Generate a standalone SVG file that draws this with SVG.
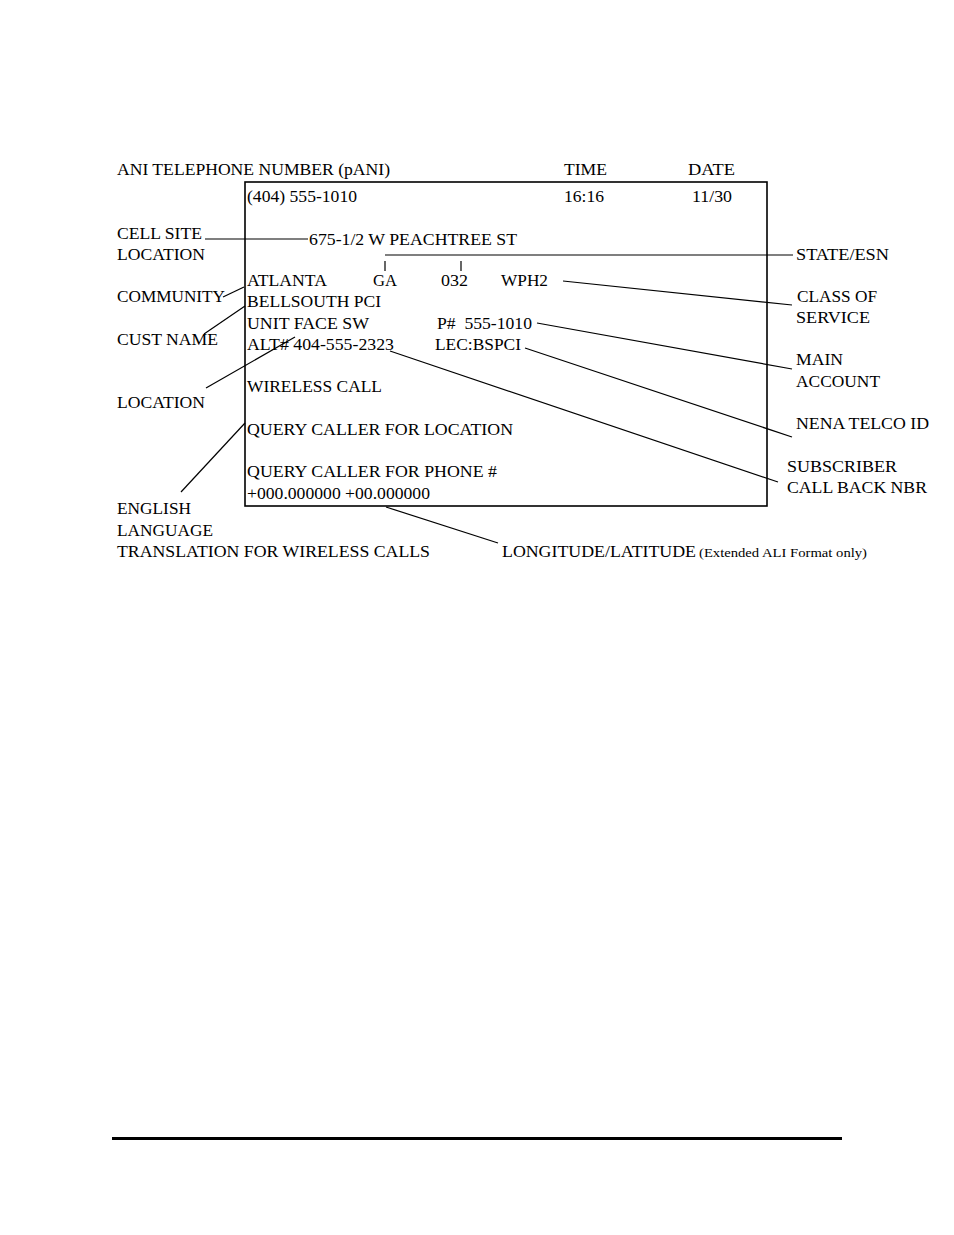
<svg xmlns="http://www.w3.org/2000/svg" width="954" height="1235" viewBox="0 0 954 1235">
<style>
text{font-family:"Liberation Serif","Times New Roman",serif;font-size:17.5px;fill:#000}
.s{font-size:13px}
.ln{stroke:#000;stroke-width:1.2;fill:none}
</style>
<rect width="954" height="1235" fill="#fff"/>
<g id="ali-box">
<rect x="245" y="182" width="522" height="324" fill="none" stroke="#000" stroke-width="1.6"/>
<text x="247" y="202" textLength="110" lengthAdjust="spacingAndGlyphs">(404) 555-1010</text>
<text x="564" y="202" textLength="40" lengthAdjust="spacingAndGlyphs">16:16</text>
<text x="692" y="202" textLength="40" lengthAdjust="spacingAndGlyphs">11/30</text>
<text x="309" y="245" textLength="208" lengthAdjust="spacingAndGlyphs">675-1/2 W PEACHTREE ST</text>
<text x="247" y="286" textLength="80" lengthAdjust="spacingAndGlyphs">ATLANTA</text>
<text x="373" y="286" textLength="24" lengthAdjust="spacingAndGlyphs">GA</text>
<text x="441" y="286" textLength="27" lengthAdjust="spacingAndGlyphs">032</text>
<text x="501" y="286" textLength="47" lengthAdjust="spacingAndGlyphs">WPH2</text>
<text x="247" y="307" textLength="134" lengthAdjust="spacingAndGlyphs">BELLSOUTH PCI</text>
<text x="247" y="329" textLength="122" lengthAdjust="spacingAndGlyphs">UNIT FACE SW</text>
<text x="437" y="329" textLength="95" lengthAdjust="spacingAndGlyphs" xml:space="preserve">P#  555-1010</text>
<text x="247" y="350" textLength="147" lengthAdjust="spacingAndGlyphs">ALT# 404-555-2323</text>
<text x="435" y="350" textLength="86" lengthAdjust="spacingAndGlyphs">LEC:BSPCI</text>
<text x="247" y="392" textLength="135" lengthAdjust="spacingAndGlyphs">WIRELESS CALL</text>
<text x="247" y="435" textLength="266" lengthAdjust="spacingAndGlyphs">QUERY CALLER FOR LOCATION</text>
<text x="247" y="477" textLength="250" lengthAdjust="spacingAndGlyphs">QUERY CALLER FOR PHONE #</text>
<text x="247" y="499" textLength="183" lengthAdjust="spacingAndGlyphs">+000.000000 +00.000000</text>
</g>
<g id="label-ani"><text x="117" y="175" textLength="273" lengthAdjust="spacingAndGlyphs">ANI TELEPHONE NUMBER (pANI)</text></g>
<g id="label-time"><text x="564" y="175" textLength="43" lengthAdjust="spacingAndGlyphs">TIME</text></g>
<g id="label-date"><text x="688" y="175" textLength="47" lengthAdjust="spacingAndGlyphs">DATE</text></g>
<g id="label-cellsite"><text x="117" y="239" textLength="85" lengthAdjust="spacingAndGlyphs">CELL SITE</text><text x="117" y="260" textLength="88" lengthAdjust="spacingAndGlyphs">LOCATION</text></g>
<g id="label-community"><text x="117" y="302" textLength="108" lengthAdjust="spacingAndGlyphs">COMMUNITY</text></g>
<g id="label-custname"><text x="117" y="345" textLength="101" lengthAdjust="spacingAndGlyphs">CUST NAME</text></g>
<g id="label-location"><text x="117" y="408" textLength="88" lengthAdjust="spacingAndGlyphs">LOCATION</text></g>
<g id="label-english"><text x="117" y="514" textLength="74" lengthAdjust="spacingAndGlyphs">ENGLISH</text><text x="117" y="536" textLength="96" lengthAdjust="spacingAndGlyphs">LANGUAGE</text><text x="117" y="557" textLength="313" lengthAdjust="spacingAndGlyphs">TRANSLATION FOR WIRELESS CALLS</text></g>
<g id="label-stateesn"><text x="796" y="260" textLength="93" lengthAdjust="spacingAndGlyphs">STATE/ESN</text></g>
<g id="label-class"><text x="797" y="302" textLength="80" lengthAdjust="spacingAndGlyphs">CLASS OF</text><text x="796" y="323" textLength="74" lengthAdjust="spacingAndGlyphs">SERVICE</text></g>
<g id="label-main"><text x="796" y="365" textLength="47" lengthAdjust="spacingAndGlyphs">MAIN</text><text x="796" y="387" textLength="84" lengthAdjust="spacingAndGlyphs">ACCOUNT</text></g>
<g id="label-nena"><text x="796" y="429" textLength="133" lengthAdjust="spacingAndGlyphs">NENA TELCO ID</text></g>
<g id="label-subscriber"><text x="787" y="472" textLength="110" lengthAdjust="spacingAndGlyphs">SUBSCRIBER</text><text x="787" y="493" textLength="140" lengthAdjust="spacingAndGlyphs">CALL BACK NBR</text></g>
<g id="label-lonlat"><text x="502" y="557" textLength="194" lengthAdjust="spacingAndGlyphs">LONGITUDE/LATITUDE</text><text class="s" x="699" y="557" textLength="168" lengthAdjust="spacingAndGlyphs">(Extended ALI Format only)</text></g>
<g id="connectors">
<line class="ln" x1="205" y1="239" x2="308" y2="239"/>
<line class="ln" x1="385" y1="255" x2="793" y2="255"/>
<line class="ln" x1="385" y1="261" x2="385" y2="271"/>
<line class="ln" x1="461" y1="261" x2="461" y2="271"/>
<line class="ln" x1="563" y1="281" x2="792" y2="305"/>
<line class="ln" x1="537" y1="323" x2="792" y2="369"/>
<line class="ln" x1="525" y1="348" x2="792" y2="437"/>
<line class="ln" x1="390" y1="351" x2="778" y2="482"/>
<line class="ln" x1="223" y1="297" x2="244" y2="287"/>
<line class="ln" x1="204" y1="334" x2="245" y2="306"/>
<line class="ln" x1="206" y1="388" x2="295" y2="337"/>
<line class="ln" x1="181" y1="492" x2="245" y2="423"/>
<line class="ln" x1="386" y1="507" x2="498" y2="543"/>
</g>
<g id="footer-rule"><line x1="112" y1="1138.5" x2="842" y2="1138.5" stroke="#000" stroke-width="3"/></g>
</svg>
